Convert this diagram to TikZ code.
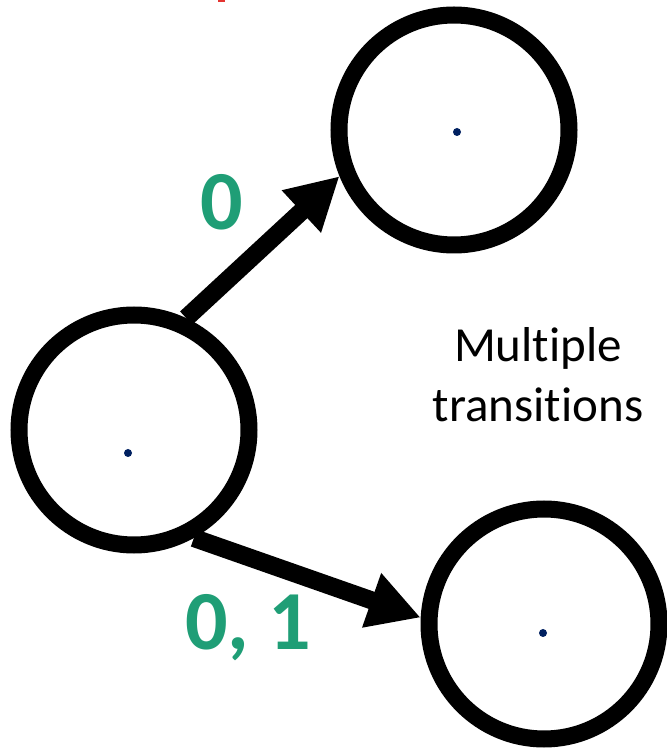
\documentclass[tikz,border=0pt]{standalone}
\usepackage{fontspec}
\setmainfont[Ligatures=NoCommon]{Carlito}
\usetikzlibrary{arrows.meta}
\definecolor{labgreen}{RGB}{31,158,118}
\definecolor{dotblue}{RGB}{0,32,96}
\definecolor{topred}{RGB}{228,52,48}

\begin{document}
\begin{tikzpicture}[x=1pt,y=1pt,
  statering/.style={circle,draw,line width=17pt,minimum size=230pt,inner sep=0pt},
  trans/.style={line width=18pt,-{Triangle[length=52pt,width=54pt]}},
  lab/.style={text=labgreen,anchor=base,font=\fontsize{84}{84}\selectfont\bfseries}]
\useasboundingbox (0,0) rectangle (667,748);
\fill[topred] (218,746) rectangle (225,748);
\node[statering] (q0) at (134,318) {};
\node[statering] (q1) at (454,618) {};
\node[statering] (q2) at (544,124) {};
\foreach \p in {(457,616),(128,295),(543,115)} \fill[dotblue] \p circle (4);
\draw[trans] (q0.65) -- (q1.202);
\draw[trans] (q0.-61) -- (q2.177);
\node[lab] (l0) at (222,518) {0};
\node[lab] (l01) at (248,98) {0, 1};
\node[align=center,font=\fontsize{49}{60}\selectfont] (txt) at (538,373) {Multiple\\transitions};
\end{tikzpicture}
\end{document}
